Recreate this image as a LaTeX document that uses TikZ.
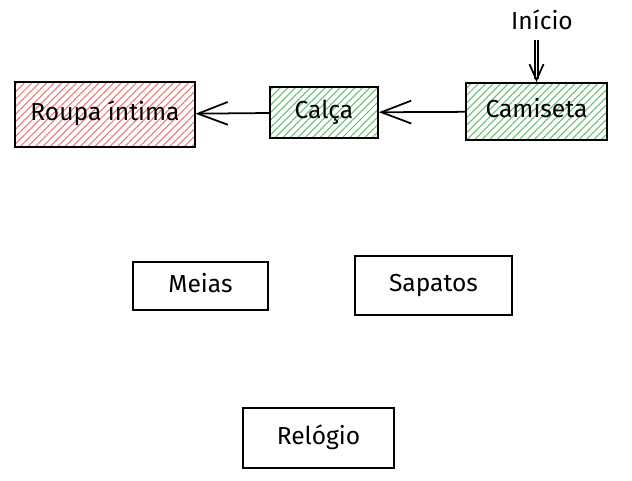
\documentclass[tikz,border=0pt]{standalone}
\usepackage{fontspec}
\setmainfont{Fira Sans}
\usetikzlibrary{arrows.meta,patterns.meta}
\definecolor{hachvermelho}{RGB}{240,115,115}
\definecolor{hachverde}{RGB}{100,190,110}
\tikzset{
  caixa/.style={draw, line width=1pt, font=\fontsize{14}{16}\selectfont, inner sep=0pt, text height=10pt, text depth=3pt},
  vermelha/.style={pattern={Lines[angle=45,distance=3pt,line width=0.6pt]}, pattern color=hachvermelho},
  verde/.style={pattern={Lines[angle=45,distance=3pt,line width=0.6pt]}, pattern color=hachverde},
  seta/.style={line width=1pt, -{Straight Barb[length=17pt,width=13pt,line width=1pt]}},
  setinha/.style={line width=1pt, double distance=1pt, -{Straight Barb[length=9pt,width=8pt,line width=1pt]}}
}
\begin{document}
\begin{tikzpicture}[x=0.02cm,y=-0.02cm] % 1 unidade = 1 pixel
% moldura
\useasboundingbox (0,0) rectangle (632,480);
% linha de cima
\node[caixa, vermelha, minimum width=3.6cm, minimum height=1.3cm] (roupa) at (105,114.5) {Roupa íntima};
\node[caixa, verde, minimum width=2.16cm, minimum height=1.02cm] (calca) at (324,112.5) {Calça};
\node[caixa, verde, minimum width=2.82cm, minimum height=1.14cm] (camiseta) at (536.5,111.5) {Camiseta};
% início
\node[font=\fontsize{14}{16}\selectfont] (inicio) at (542,20) {Início};
\coordinate (ini) at (536.5,40);
\draw[setinha] (ini) -- (camiseta);
% setas
\draw[seta] (calca) -- (roupa);
\draw[seta] (camiseta) -- (calca);
% sem ligação
\node[caixa, minimum width=2.7cm, minimum height=0.96cm] (meias) at (200.5,286) {Meias};
\node[caixa, minimum width=3.14cm, minimum height=1.18cm] (sapatos) at (433.5,285.5) {Sapatos};
\node[caixa, minimum width=3.02cm, minimum height=1.2cm] (relogio) at (318.5,438) {Relógio};
\end{tikzpicture}
\end{document}
